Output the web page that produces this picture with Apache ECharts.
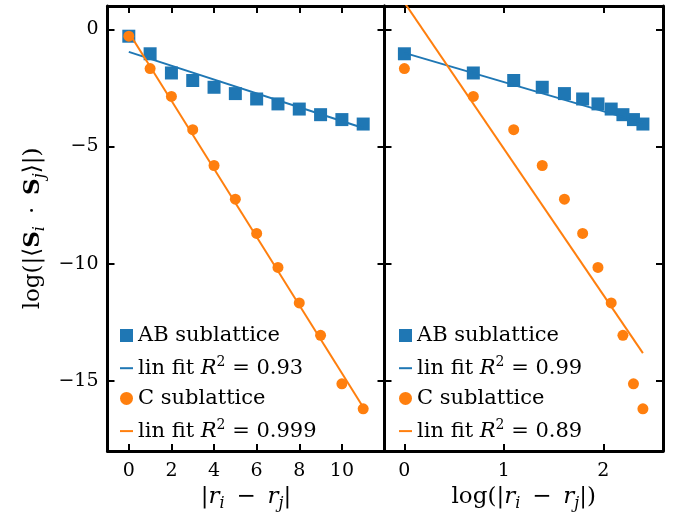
<!DOCTYPE html>
<html>
<head>
<meta charset="utf-8">
<script src="https://cdn.jsdelivr.net/npm/echarts@6/dist/echarts.min.js"></script>
<style>
  html, body { margin: 0; padding: 0; background: #fff; }
  #chart { width: 678px; height: 517px; }
</style>
</head>
<body>
<div id="chart"></div>
<script>
// left panel: separation |ri - rj|
var sepL = [0, 1, 2, 3, 4, 5, 6, 7, 8, 9, 10, 11];
var abL = [-0.29, -1.04, -1.86, -2.18, -2.47, -2.74, -2.97, -3.18, -3.40, -3.64, -3.85, -4.04];
var cL = [-0.29, -1.67, -2.86, -4.28, -5.81, -7.25, -8.71, -10.16, -11.68, -13.06, -15.13, -16.2];
// fit line end points
var fitAbLx = [0, 11], fitAbLy = [-0.96, -4.21];
var fitCLx = [0, 11], fitCLy = [-0.13, -16.13];

// right panel: log(|ri - rj|), r = 1..11
var logSep = [0, 0.693, 1.099, 1.386, 1.609, 1.792, 1.946, 2.079, 2.197, 2.303, 2.398];
var abR = [-1.04, -1.86, -2.18, -2.47, -2.74, -2.97, -3.18, -3.40, -3.64, -3.85, -4.04];
var cR = [-1.67, -2.86, -4.28, -5.81, -7.25, -8.71, -10.16, -11.68, -13.06, -15.13, -16.2];
var fitAbRx = [0, 2.398], fitAbRy = [-1.0, -3.99];
var fitCRx = [0, 2.398], fitCRy = [1.15, -13.82];

// ticks
var xTicksL = [0, 2, 4, 6, 8, 10];
var xTicksR = [0, 1, 2];
var yTicks = [-15, -10, -5, 0];

var BLUE = '#1f77b4', ORANGE = '#ff7f0e';
var FONT = 'DejaVu Serif';
var SP = ' \u2009'; // space round binary operators

function pairs(xs, ys) {
  return xs.map(function (x, i) { return [x, ys[i]]; });
}
function minus(v) {
  return v < 0 ? '\u2212' + (-v) : String(v);
}

// rich text styles: size is main font size, small is sub/superscript
function makeRich(size, small, lh) {
  var base = { fontFamily: FONT, fontSize: size, color: '#000', lineHeight: lh };
  return {
    n: Object.assign({}, base),
    i: Object.assign({}, base, { fontStyle: 'italic' }),
    b: Object.assign({}, base, { fontWeight: 'bold' }),
    sub: { fontFamily: FONT, fontSize: small, fontStyle: 'italic', color: '#000', lineHeight: small + 3, verticalAlign: 'bottom' },
    sup: { fontFamily: FONT, fontSize: small, color: '#000', lineHeight: small + 3, verticalAlign: 'top' }
  };
}
var richLegend = makeRich(21, 14, 26);
var richName = makeRich(23, 16, 29);

var legendText = {
  abL: '{n|AB sublattice}',
  fitAbL: '{n|lin fit }{i|R}{sup|2}{n| = 0.93}',
  cL: '{n|C sublattice}',
  fitCL: '{n|lin fit }{i|R}{sup|2}{n| = 0.999}',
  abR: '{n|AB sublattice}',
  fitAbR: '{n|lin fit }{i|R}{sup|2}{n| = 0.99}',
  cR: '{n|C sublattice}',
  fitCR: '{n|lin fit }{i|R}{sup|2}{n| = 0.89}'
};
var lineIcon = 'path://M0,0L13,0L13,2L0,2Z';

var axisLine = { show: true, onZero: false, lineStyle: { color: '#000', width: 3 } };
var tick = function (vals) {
  return { show: true, inside: true, length: 7, customValues: vals, lineStyle: { color: '#000', width: 2 } };
};

function xAxes(grid, min, max, vals, name) {
  return [{
    type: 'value', gridIndex: grid, position: 'bottom', min: min, max: max,
    axisLine: axisLine, axisTick: tick(vals), splitLine: { show: false },
    axisLabel: { customValues: vals, fontFamily: FONT, fontSize: 19, color: '#000', margin: 11, formatter: minus },
    name: name, nameLocation: 'middle', nameGap: 31,
    nameTextStyle: { rich: richName }
  }, {
    type: 'value', gridIndex: grid, position: 'top', min: min, max: max,
    axisLine: axisLine, axisTick: tick(vals), splitLine: { show: false },
    axisLabel: { show: false }
  }];
}
function yAxes(grid, showLabel) {
  var left = {
    type: 'value', gridIndex: grid, position: 'left', min: -18, max: 1,
    axisLine: axisLine, axisTick: tick(yTicks), splitLine: { show: false },
    axisLabel: { show: showLabel, customValues: yTicks, fontFamily: FONT, fontSize: 19, color: '#000', margin: 9, formatter: minus }
  };
  if (showLabel) {
    left.name = '{n|log(|\u27e8}{b|S}{sub|i}{n|' + SP + '\u00b7' + SP + '}{b|S}{sub|j}{n|\u27e9|)}';
    left.nameLocation = 'middle';
    left.nameGap = 60;
    left.nameTextStyle = { rich: richName };
  }
  var right = {
    type: 'value', gridIndex: grid, position: 'right', min: -18, max: 1,
    axisLine: axisLine, axisTick: tick(yTicks), splitLine: { show: false },
    axisLabel: { show: false }
  };
  return [left, right];
}

function scatter(name, xi, yi, data, symbol, size, color) {
  return {
    name: name, type: 'scatter', xAxisIndex: xi, yAxisIndex: yi,
    symbol: symbol, symbolSize: size, data: data,
    itemStyle: { color: color, opacity: 1 }, emphasis: { disabled: true }
  };
}
function fit(name, xi, yi, data, color) {
  return {
    name: name, type: 'line', xAxisIndex: xi, yAxisIndex: yi,
    symbol: 'none', data: data, clip: true,
    lineStyle: { color: color, width: 2 }, itemStyle: { color: color },
    emphasis: { disabled: true }
  };
}

function legend(left, names) {
  return {
    orient: 'vertical', left: left, top: 325, padding: 0,
    itemWidth: 13, itemHeight: 13, itemGap: 9.2, symbolKeepAspect: true,
    selectedMode: false,
    data: [
      { name: names[0] },
      { name: names[1], icon: lineIcon },
      { name: names[2] },
      { name: names[3], icon: lineIcon }
    ],
    formatter: function (n) { return legendText[n]; },
    textStyle: { rich: richLegend }
  };
}

var chart = echarts.init(document.getElementById('chart'), null, { renderer: 'canvas' });
chart.setOption({
  animation: false,
  backgroundColor: '#fff',
  grid: [
    { left: 107.5, top: 6, width: 277, height: 445 },
    { left: 384.5, top: 6, width: 278.5, height: 445 }
  ],
  xAxis: xAxes(0, -1, 12, xTicksL, '{n||}{i|r}{sub|i}{n|' + SP + '\u2212' + SP + '}{i|r}{sub|j}{n||}')
    .concat(xAxes(1, -0.2, 2.6, xTicksR, '{n|log(|}{i|r}{sub|i}{n|' + SP + '\u2212' + SP + '}{i|r}{sub|j}{n||)}')),
  yAxis: yAxes(0, true).concat(yAxes(1, false)),
  legend: [
    legend(120, ['abL', 'fitAbL', 'cL', 'fitCL']),
    legend(399, ['abR', 'fitAbR', 'cR', 'fitCR'])
  ],
  series: [
    scatter('abL', 0, 0, pairs(sepL, abL), 'rect', 13, BLUE),
    fit('fitAbL', 0, 0, pairs(fitAbLx, fitAbLy), BLUE),
    scatter('cL', 0, 0, pairs(sepL, cL), 'circle', 11, ORANGE),
    fit('fitCL', 0, 0, pairs(fitCLx, fitCLy), ORANGE),
    scatter('abR', 2, 2, pairs(logSep, abR), 'rect', 13, BLUE),
    fit('fitAbR', 2, 2, pairs(fitAbRx, fitAbRy), BLUE),
    scatter('cR', 2, 2, pairs(logSep, cR), 'circle', 11, ORANGE),
    fit('fitCR', 2, 2, pairs(fitCRx, fitCRy), ORANGE)
  ]
});
</script>
</body>
</html>
